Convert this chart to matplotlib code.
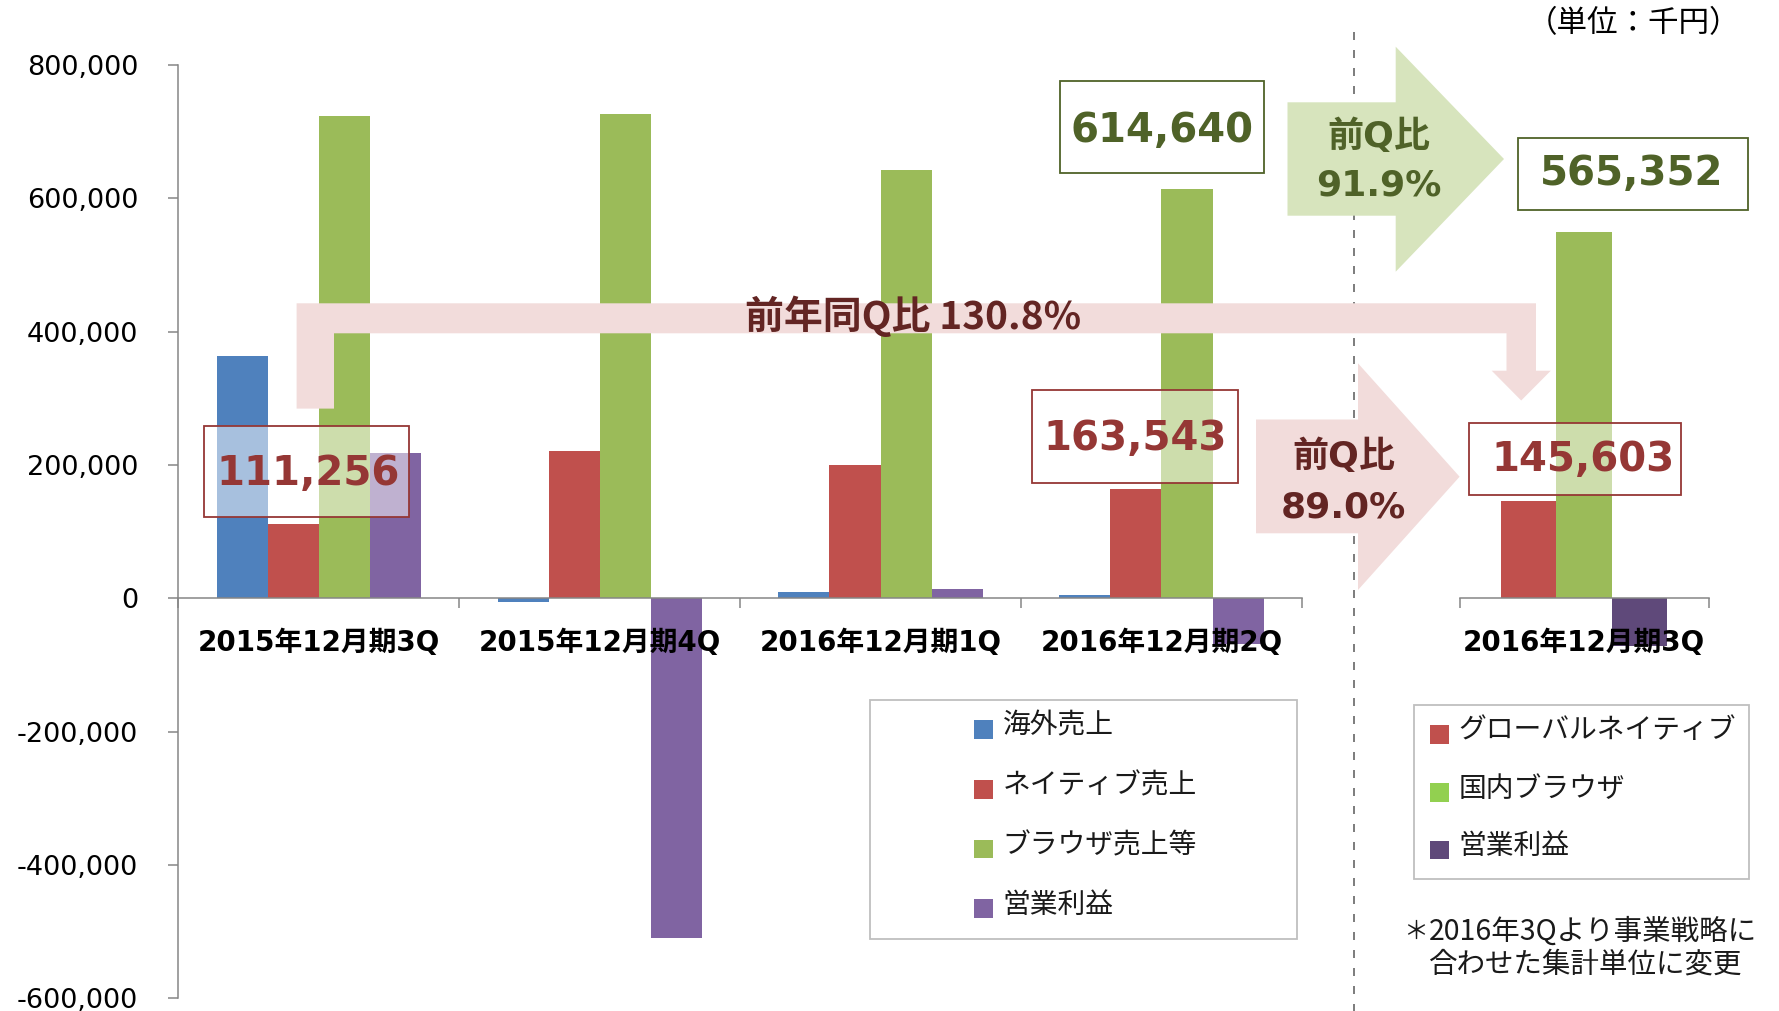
import matplotlib.pyplot as plt
from matplotlib.patches import Polygon, Rectangle
from matplotlib.ticker import FuncFormatter
import numpy as np

plt.rcParams['font.family'] = ['DejaVu Sans', 'Noto Sans CJK JP']

# --- data (千円) ---
categories = ['2015年12月期3Q', '2015年12月期4Q', '2016年12月期1Q', '2016年12月期2Q']
overseas = [364000, -6000, 10000, 4500]
native = [111256, 221000, 200000, 163543]
browser = [723500, 727000, 643000, 614640]
op_profit = [218500, -509000, 14000, -68000]
left_names = ['海外売上', 'ネイティブ売上', 'ブラウザ売上等', '営業利益']
left_colors = ['#4F81BD', '#C0504D', '#9BBB59', '#8064A2']

new_category = ['2016年12月期3Q']
global_native = [145603]
domestic_browser = [549000]
new_op_profit = [-72000]
right_names = ['グローバルネイティブ', '国内ブラウザ', '営業利益']
right_colors = ['#C0504D', '#9BBB59', '#5F497A']
right_legend_colors = ['#C0504D', '#92D050', '#5F497A']

yticks = [-600000, -400000, -200000, 0, 200000, 400000, 600000, 800000]

red_callouts = ['111,256', '163,543', '145,603']
green_callouts = ['614,640', '565,352']
yoy_text = '前年同Q比 130.8%'
qoq_green = ['前Q比', '91.9%']
qoq_red = ['前Q比', '89.0%']
unit_text = '（単位：千円）'
note_lines = ['2016年3Qより事業戦略に', '合わせた集計単位に変更']

# --- figure, laid out in pixel terms ---
W, H = 1779, 1011
fig = plt.figure(figsize=(W / 100, H / 100), dpi=100)


def fig_rect(x0, x1, y0, y1):
    return [x0 / W, 1 - y1 / H, (x1 - x0) / W, (y1 - y0) / H]


axis_grey = '#868686'

ax = fig.add_axes(fig_rect(178.3, 1301.9, 65, 998.3))
ax2 = fig.add_axes(fig_rect(1459.6, 1708.5, 65, 998.3))

# left chart: 4 quarters x 4 series
x = np.arange(len(categories))
w = 1 / 5.5
for i, (vals, c) in enumerate(zip([overseas, native, browser, op_profit], left_colors)):
    ax.bar(x + (i - 1.5) * w, vals, w, color=c, linewidth=0)

# right chart: new segment layout
x2 = np.arange(len(new_category))
w2 = 1 / 4.5
for i, (vals, c) in enumerate(zip([global_native, domestic_browser, new_op_profit], right_colors)):
    ax2.bar(x2 + (i - 1) * w2, vals, w2, color=c, linewidth=0)

for a, n in [(ax, len(categories)), (ax2, len(new_category))]:
    a.set_xlim(-0.5, n - 0.5)
    a.set_ylim(-600000, 800000)
    a.patch.set_alpha(0)
    a.spines['top'].set_visible(False)
    a.spines['right'].set_visible(False)
    a.spines['bottom'].set_position(('data', 0))
    a.spines['bottom'].set_color(axis_grey)
    a.spines['bottom'].set_linewidth(1.1)
    a.tick_params(axis='x', which='major', length=7, width=1.1, direction='out',
                  color=axis_grey, labelbottom=False)
    a.tick_params(axis='x', which='minor', length=0, pad=22)

ax.set_xticks(np.arange(len(categories) + 1) - 0.5)
ax.set_xticks(x, labels=categories, minor=True, fontsize=20, fontweight='bold')
ax2.set_xticks([-0.5, 0.5])
ax2.set_xticks(x2, labels=new_category, minor=True, fontsize=20, fontweight='bold')

ax.spines['left'].set_color(axis_grey)
ax.spines['left'].set_linewidth(1.1)
ax.set_yticks(yticks)
ax.yaxis.set_major_formatter(FuncFormatter(lambda v, p: f"{v:,.0f}"))
ax.tick_params(axis='y', length=7, width=1.1, direction='out', color=axis_grey,
               labelsize=19.5, pad=22)

ax2.spines['left'].set_visible(False)
ax2.set_yticks([])

# --- overlay for callouts, arrows, legends ---
ov = fig.add_axes([0, 0, 1, 1])
ov.set_xlim(0, W)
ov.set_ylim(H, 0)
ov.axis('off')

# separator between old and new segments
ov.plot([1354.4, 1354.4], [31.7, H], color='#7F7F7F', lw=1.44,
        linestyle=(0, (4, 5)), zorder=1)

pink = '#F2DCDB'
light_green = '#D7E4BD'
dark_red = '#953735'
dark_green = '#4F6228'
deep_red = '#632523'

# year-on-year elbow arrow
elbow = [(296.6, 408.6), (296.6, 303.3), (1536, 303.3), (1536, 370.7), (1550.8, 370.7),
         (1521.2, 400.5), (1491.7, 370.7), (1506.5, 370.7), (1506.5, 333.3),
         (334, 333.3), (334, 408.6)]
ov.add_patch(Polygon(elbow, closed=True, facecolor=pink, edgecolor='none', zorder=2))
ov.text(912.8, 316, yoy_text, ha='center', va='center', fontsize=28,
        fontweight='bold', color=deep_red, family='Noto Sans CJK JP', zorder=4)

# quarter-on-quarter block arrows
g_arrow = [(1287.5, 102.3), (1395.7, 102.3), (1395.7, 46.7), (1504, 159),
           (1395.7, 271.7), (1395.7, 215.7), (1287.5, 215.7)]
ov.add_patch(Polygon(g_arrow, closed=True, facecolor=light_green, edgecolor='none', zorder=2))
ov.text(1379, 136, qoq_green[0], ha='center', va='center', fontsize=26,
        fontweight='bold', color=dark_green, zorder=4)
ov.text(1379, 195, qoq_green[1], ha='center', va='baseline', fontsize=26,
        fontweight='bold', color=dark_green, zorder=4)

r_arrow = [(1256, 419.5), (1358, 419.5), (1358, 363.3), (1459.6, 476.7),
           (1358, 590), (1358, 533.3), (1256, 533.3)]
ov.add_patch(Polygon(r_arrow, closed=True, facecolor=pink, edgecolor='none', zorder=2))
ov.text(1343.5, 456.5, qoq_red[0], ha='center', va='center', fontsize=26,
        fontweight='bold', color=deep_red, zorder=4)
ov.text(1343.5, 517, qoq_red[1], ha='center', va='baseline', fontsize=26,
        fontweight='bold', color=deep_red, zorder=4)

# value call-out boxes: (x0, x1, y0, y1, text x, baseline)
red_boxes = [(204.4, 409, 425.7, 517, 308, 485),
             (1032, 1237.5, 390, 482.6, 1135.5, 450),
             (1468.5, 1680.8, 423.4, 494.7, 1582.7, 471)]
green_boxes = [(1059.8, 1264, 81.3, 173, 1162, 141.7),
               (1518, 1748, 138.3, 210, 1631.7, 185)]
for (x0, x1, y0, y1, tx, ty), label in zip(red_boxes, red_callouts):
    ov.add_patch(Rectangle((x0, y0), x1 - x0, y1 - y0, facecolor=(1, 1, 1, 0.5),
                           edgecolor=dark_red, lw=1.3, zorder=3))
    ov.text(tx, ty, label, ha='center', va='baseline', fontsize=29,
            fontweight='bold', color=dark_red, zorder=4)
for (x0, x1, y0, y1, tx, ty), label in zip(green_boxes, green_callouts):
    ov.add_patch(Rectangle((x0, y0), x1 - x0, y1 - y0, facecolor=(1, 1, 1, 0.5),
                           edgecolor=dark_green, lw=1.3, zorder=3))
    ov.text(tx, ty, label, ha='center', va='baseline', fontsize=29,
            fontweight='bold', color=dark_green, zorder=4)

# unit label
ov.text(1633, 24, unit_text, ha='center', va='center', fontsize=22,
        family='Noto Sans CJK JP', color='black')

# legends drawn as framed lists
def draw_legend(frame, patch_x, patch_size, rows_y, text_x, names, colors):
    x0, x1, y0, y1 = frame
    ov.add_patch(Rectangle((x0, y0), x1 - x0, y1 - y0, facecolor='white',
                           edgecolor='#BFBFBF', lw=1.3, zorder=3))
    for yy, name, c in zip(rows_y, names, colors):
        ov.add_patch(Rectangle((patch_x, yy - patch_size / 2), patch_size, patch_size,
                               facecolor=c, edgecolor='none', zorder=4))
        ov.text(text_x, yy - 4, name, ha='left', va='center', fontsize=20,
                family='Noto Sans CJK JP', color='#1A1A1A', zorder=4)


draw_legend((870, 1297, 700, 938.6), 974, 18.5, [729.3, 789.7, 849, 908.6], 1002.7,
            left_names, left_colors)
draw_legend((1414, 1749, 705, 879), 1430, 18.5, [734.5, 792.6, 850], 1458.5,
            right_names, right_legend_colors)

# footnote
ov.text(1403, 932, '＊', ha='left', va='center', fontsize=18,
        family='Noto Sans CJK JP', color='#1A1A1A')
ov.text(1429, 932, note_lines[0], ha='left', va='center', fontsize=20.5,
        family='Noto Sans CJK JP', color='#1A1A1A')
ov.text(1429, 965, note_lines[1], ha='left', va='center', fontsize=20.5,
        family='Noto Sans CJK JP', color='#1A1A1A')

fig.savefig('out.png', dpi=100)
